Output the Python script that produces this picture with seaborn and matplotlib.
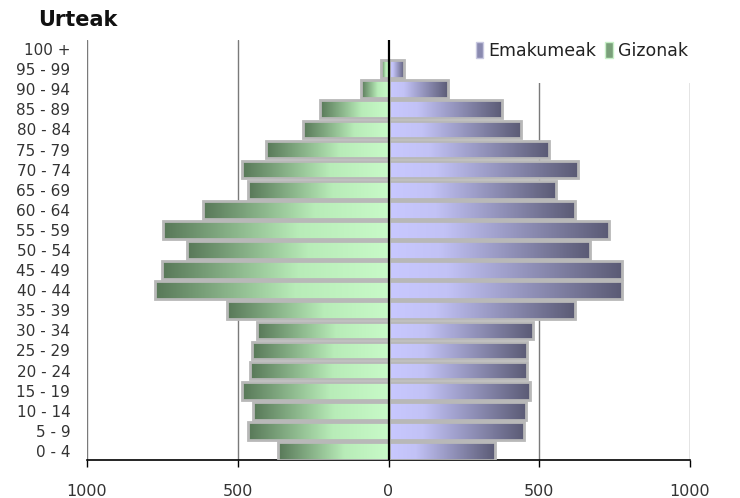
import numpy as np
import pandas as pd
import matplotlib
matplotlib.use("Agg")
import matplotlib.pyplot as plt
import seaborn as sns
from matplotlib.colors import LinearSegmentedColormap
from matplotlib.patches import Patch, Rectangle

# ------------------------------------------------------------
# Datuak (adin-taldeak goitik behera)
# ------------------------------------------------------------
adinak = ["100 +", "95 - 99", "90 - 94", "85 - 89", "80 - 84", "75 - 79",
          "70 - 74", "65 - 69", "60 - 64", "55 - 59", "50 - 54", "45 - 49",
          "40 - 44", "35 - 39", "30 - 34", "25 - 29", "20 - 24", "15 - 19",
          "10 - 14", "5 - 9", "0 - 4"]
gizonak = [0, 25, 90, 228, 285, 407, 487, 467, 616, 748, 669, 751,
           775, 536, 437, 454, 460, 487, 450, 467, 367]
emakumeak = [0, 53, 199, 378, 441, 531, 627, 554, 617, 733, 667, 773,
             773, 617, 478, 461, 461, 468, 455, 451, 352]

df = pd.DataFrame({
    "adina": adinak * 2,
    "balioa": emakumeak + [-v for v in gizonak],
    "sexua": ["Emakumeak"] * len(adinak) + ["Gizonak"] * len(adinak),
})

sns.set_style("white")
plt.rcParams["font.family"] = ["DejaVu Sans"]

fig = plt.figure(figsize=(7.4, 4.98), dpi=100)
ax = fig.add_axes([87 / 740, 38 / 498, 603 / 740, 420 / 498])

sns.barplot(data=df, y="adina", x="balioa", hue="sexua", order=adinak,
            hue_order=["Emakumeak", "Gizonak"], dodge=False, orient="h",
            width=0.88, legend=False, ax=ax)

cmap_em = LinearSegmentedColormap.from_list(
    "em", [(0, "#c8c8ff"), (0.25, "#c2c2f6"), (1, "#5a5a74")])
cmap_gi = LinearSegmentedColormap.from_list(
    "gi", [(0, "#c8fac8"), (0.4, "#b8ecb8"), (1, "#587858")])

# gradientea barra bakoitzean
for p in list(ax.patches):
    x0, y0 = p.get_x(), p.get_y()
    w, h = p.get_width(), p.get_height()
    if w == 0:
        continue
    grad = np.linspace(0, 1, 256).reshape(1, -1)
    if w < 0:
        img = ax.imshow(grad[:, ::-1], cmap=cmap_gi, aspect="auto",
                        extent=[x0 + w, x0, y0 + h, y0], zorder=2)
    else:
        img = ax.imshow(grad, cmap=cmap_em, aspect="auto",
                        extent=[x0, x0 + w, y0 + h, y0], zorder=2)
    img.set_clip_path(p)
    p.set_facecolor("none")
    p.set_edgecolor("#b8b8b8")
    p.set_linewidth(2)
    p.set_zorder(3)

ax.set_xlim(-1000, 1000)
ax.set_ylim(20.45, -0.45)

# sareta bertikala
for xv in [-1000, -500, 500, 1000]:
    ax.axvline(xv, color="#7a7a7a", lw=1, zorder=1)
ax.axvline(0, color="black", lw=1.6, zorder=4)

# legendaren atzeko zuria (sareta moztuta)
ax.add_patch(Rectangle(((475 - 87) / 603, (460 - 83) / 420), 1.0, 1.0,
                       transform=ax.transAxes, facecolor="white",
                       edgecolor="none", zorder=1.5, clip_on=False))

ax.set_xticks([-1000, -500, 0, 500, 1000])
ax.set_xticklabels(["1000", "500", "0", "500", "1000"], fontsize=11.5,
                   color="#333333")
ax.tick_params(axis="x", direction="out", length=5, width=1, colors="black",
               bottom=True, pad=12, labelcolor="#333333")
ax.tick_params(axis="y", length=0, labelsize=11, pad=12, labelcolor="#333333")
ax.set_xlabel("")
ax.set_ylabel("")

for s in ["top", "right", "left"]:
    ax.spines[s].set_visible(False)
ax.spines["bottom"].set_color("black")
ax.spines["bottom"].set_linewidth(1.2)

handles = [Patch(facecolor="#8a8ab0", edgecolor="#c8c8e0", label="Emakumeak"),
           Patch(facecolor="#7aa07a", edgecolor="#c8f0c8", label="Gizonak")]
leg = ax.legend(handles=handles, loc="upper right", ncol=2, frameon=False,
                fontsize=12.5, handlelength=0.45, handleheight=1.0,
                handletextpad=0.3, columnspacing=0.5, borderaxespad=0.0,
                borderpad=0.1, bbox_to_anchor=(1.0, 1.0))
for t in leg.get_texts():
    t.set_color("#222222")
leg.set_zorder(5)

fig.text(38 / 740, 1 - 20 / 498, "Urteak", fontsize=15, fontweight="bold",
         va="center", ha="left", color="#111111")

fig.savefig("out.png", dpi=100)
